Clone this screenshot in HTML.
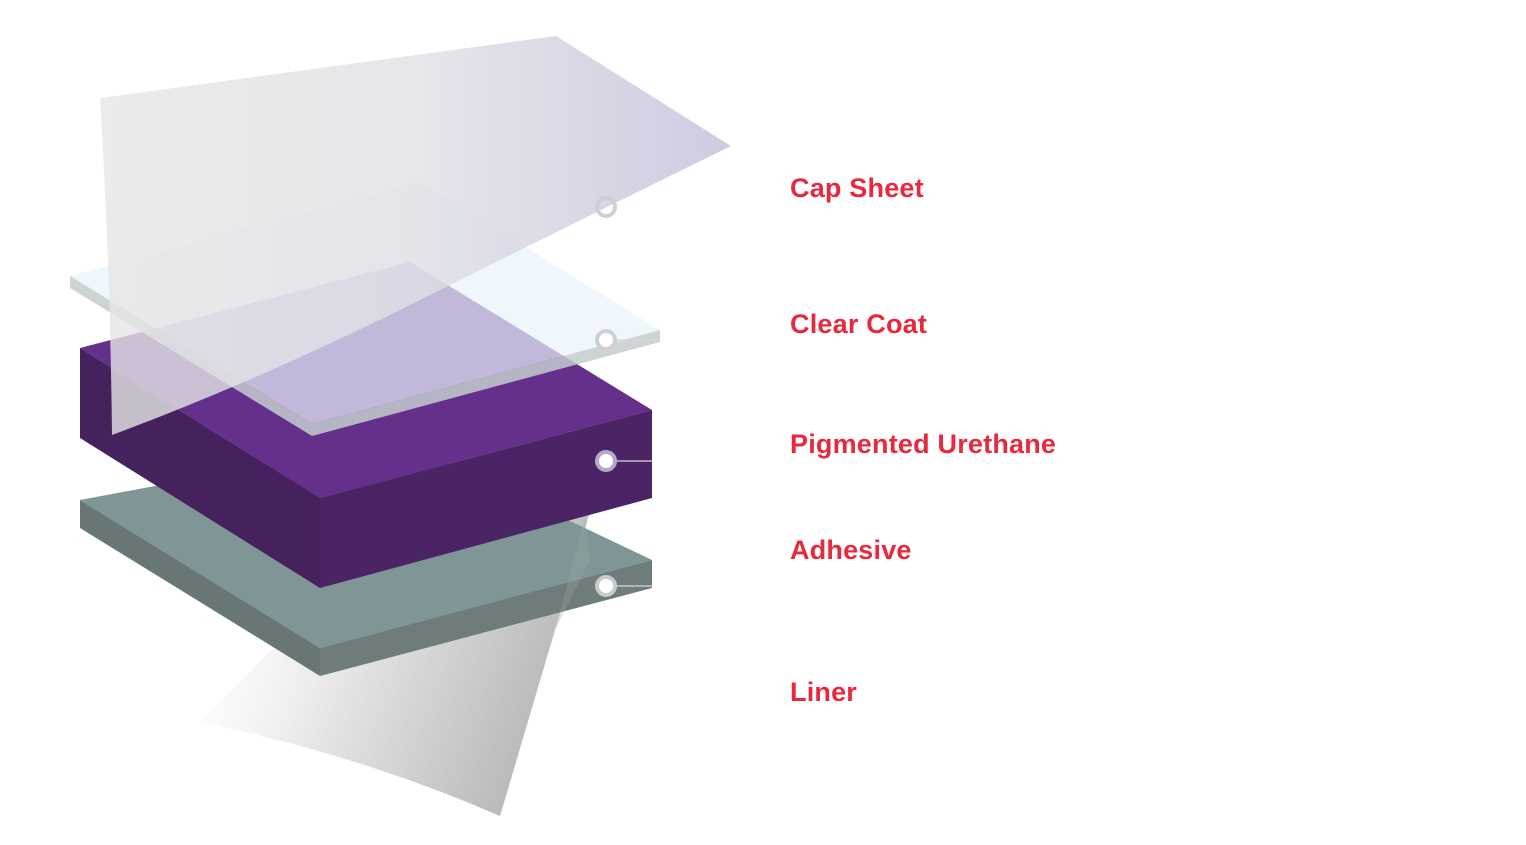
<!DOCTYPE html>
<html><head><meta charset="utf-8"><style>
html,body{margin:0;padding:0;background:#fff;}
svg{display:block}
text{font-family:"Liberation Sans",Arial,sans-serif;font-weight:bold;font-size:27px;fill:#e8283c;letter-spacing:0.2px}
</style></head><body>
<svg width="1526" height="845" viewBox="0 0 1526 845" xmlns="http://www.w3.org/2000/svg">
<defs>
<linearGradient id="liner" x1="0" y1="0" x2="1" y2="0.3">
<stop offset="0" stop-color="#fff" stop-opacity="0"/>
<stop offset="0.5" stop-color="#e4e4e4"/>
<stop offset="1" stop-color="#b8b8b8"/>
</linearGradient>
<linearGradient id="cap" x1="0" y1="0" x2="1" y2="0">
<stop offset="0" stop-color="#e6e6e6"/>
<stop offset="0.5" stop-color="#e0e0e6"/>
<stop offset="1" stop-color="#c2bed9"/>
</linearGradient>
</defs>
<!-- Liner -->
<path d="M200,722 Q360,755 500,816 L592,505 L320,600 Z" fill="url(#liner)"/>
<!-- Adhesive -->
<polygon points="80,500 400,440 652,560 320,648" fill="#809696"/>
<polygon points="80,500 320,648 320,676 80,528" fill="#687676"/>
<polygon points="320,648 652,560 652,588 320,676" fill="#6e7c7c"/>
<path d="M585,518 L555,630 L590,560 Z" fill="#9aa8a8" opacity="0.3"/>
<!-- Purple -->
<polygon points="80,348 410,262 652,410 320,498" fill="#652f8c"/>
<polygon points="80,348 320,498 320,588 80,438" fill="#45215e"/>
<polygon points="320,498 652,410 652,498 320,588" fill="#4b2466"/>
<!-- Clear coat -->
<polygon points="70,276 420,182 660,330 312,424" fill="#eaf4fb" opacity="0.7"/>
<polygon points="70,276 312,424 312,436 70,288" fill="#c4cccc" opacity="0.85"/>
<polygon points="312,424 660,330 660,342 312,436" fill="#c4cccc" opacity="0.85"/>
<!-- connectors -->
<g stroke="#d8d8d8" stroke-width="1.2">
<line x1="606" y1="340" x2="660" y2="340"/>
<line x1="606" y1="461" x2="652" y2="461"/>
<line x1="606" y1="586" x2="652" y2="586"/>
</g>
<g fill="#fff" stroke="#cfcfd6" stroke-width="4">
<circle cx="606" cy="207" r="9"/>
<circle cx="606" cy="340" r="9"/>
<circle cx="606" cy="461" r="9" stroke="#b8a8c8"/>
<circle cx="606" cy="586" r="9" stroke="#c8cccc"/>
</g>
<!-- Cap sheet -->
<path d="M100,98 L556,36 L731,146 Q560,230 420,300 Q260,380 112,435 Q110,260 100,98 Z" fill="url(#cap)" opacity="0.8"/>
<text x="790" y="197">Cap Sheet</text>
<text x="790" y="333">Clear Coat</text>
<text x="790" y="453">Pigmented Urethane</text>
<text x="790" y="559">Adhesive</text>
<text x="790" y="701">Liner</text>
</svg>
</body></html>
